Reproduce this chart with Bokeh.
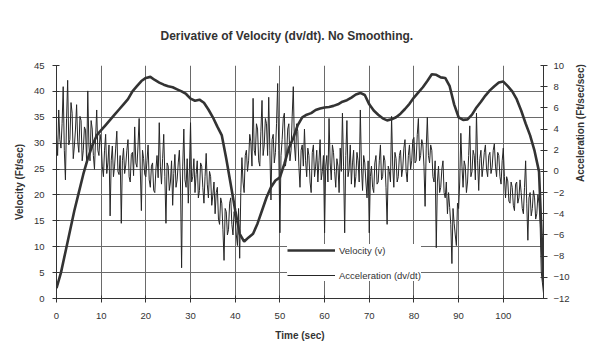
import math
from bokeh.plotting import figure
from bokeh.models import Range1d, LinearAxis, Legend, LegendItem, FixedTicker, ColumnDataSource
from bokeh.embed import file_html
from bokeh.resources import INLINE

# ---- data ----
vel_time = list(range(0, 110))
velocity = [
    2, 5, 9, 13, 17, 20.5, 24, 27, 29.5, 31.5,
    32.5, 33.5, 34.5, 35.5, 36.5, 37.5, 38.5, 40, 41, 42,
    42.6, 42.8, 42.2, 41.7, 41.3, 41, 40.8, 40.4, 40, 39.5,
    38.6, 38.2, 38.4, 37.8, 36.5, 35, 33.2, 31.5, 27, 22,
    17, 12.5, 11, 11.8, 12.5, 14.5, 17, 19.5, 21.5, 22.8,
    23.4, 26, 29, 31, 33.5, 35, 35.5, 35.8, 36.4, 36.7,
    36.9, 37, 37.2, 37.5, 38, 38.3, 38.8, 39.4, 39.7, 39.3,
    37.5, 36.3, 35.5, 34.8, 34.4, 34.6, 35, 35.7, 36.6, 37.6,
    38.8, 39.8, 40.8, 42, 43.3, 43.2, 42.7, 42.6, 41, 37.5,
    35, 34.5, 34.6, 35.5, 36.9, 38, 39.2, 40.2, 41, 41.7,
    41.9, 41, 40, 38.5, 36.3, 33.8, 31.5, 28.5, 24.5, 3,
]

acc_time = [i * 0.25 for i in range(437)]
acceleration = [
    3.5, 1.5, 5.8, 3.0, 2.2, 4.5, 8.0, 2.0, -0.8, 5.0, 8.6, 2.5, 3.0, 6.5, 5.5, 1.2, 2.4, 4.0, 6.3, 2.8,
    1.8, 5.2, 4.8, 1.0, 2.0, 4.2, 3.9, 0.8, 7.6, 2.5, 1.0, 4.8, 4.0, 1.5, 0.2, 3.2, 5.8, 2.0, 1.5, 3.5,
    2.7, 0.5, -0.5, 2.0, 3.5, -0.2, 0.8, 2.5, -4.2, 1.0, 2.4, -0.5, 0.5, 2.2, 3.8, 0.0, -0.3, 1.5, -4.9, 1.0,
    2.2, -0.2, 0.6, 2.0, 3.0, -0.5, -1.0, 1.6, 1.8, -0.4, 4.2, 0.8, 0.4, 2.5, 5.0, 0.2, -3.7, 2.0, 1.2, -0.3,
    -0.5, 1.0, 2.5, -0.8, -1.5, 0.5, 0.8, -1.8, -2.0, 0.2, 1.5, -0.6, 4.6, 0.5, -1.2, 1.2, 3.5, -0.5, -4.9, 0.8,
    0.5, -1.8, -1.0, 1.0, -3.2, -0.2, 1.6, -1.5, -0.8, 0.8, 2.0, -1.0, -9.1, 0.5, 4.0, -0.8, -1.5, 1.2, -3.0, 0.2,
    4.6, -1.0, -0.5, 1.2, -2.0, -0.3, 1.0, -2.5, -1.8, 0.8, 0.5, -1.5, -3.0, -0.5, 1.7, -1.2, -2.5, 0.0, -0.5, -3.2,
    -2.2, -1.0, -4.0, -2.0, -1.5, -4.5, -5.0, -2.5, -3.0, -5.5, -8.4, -3.5, -3.8, -6.0, -5.5, -3.0, -2.5, -5.0, -6.0, -3.8,
    -4.5, -6.0, -7.0, -3.5, -8.2, -2.0, 1.3, -1.0, -2.0, 1.5, 2.0, 0.0, 1.0, 3.5, 2.8, 0.5, 6.9, 2.0, 1.5, 4.5,
    4.0, 1.0, 0.5, 3.8, 6.7, 1.5, 2.5, 5.0, 4.5, 1.5, 7.0, 2.0, -2.7, 3.0, 3.5, 0.8, 1.8, 4.5, 8.3, 2.0,
    -5.8, 1.5, 3.0, 5.0, 5.5, 0.5, 1.5, 4.0, 4.5, 1.0, 2.0, 5.2, 8.0, 2.5, 1.0, 4.5, 3.8, 0.5, -1.5, 2.0,
    2.5, 0.5, 4.0, 1.0, -0.5, 2.2, 1.5, -1.0, -2.0, 1.8, 2.5, -0.5, 0.5, 2.0, -1.0, 1.0, 3.0, -0.8, 0.0, 1.5,
    -5.8, 0.5, 1.5, -1.0, 5.0, 0.8, -0.8, 2.5, 1.8, 0.0, -1.5, 1.2, 0.5, -2.0, 2.2, 0.0, 5.5, 0.5, -5.8, 1.5,
    4.8, -0.5, 0.2, 2.5, -1.2, 0.8, 2.0, -1.5, -0.5, 1.8, 1.0, -1.0, 5.8, 0.5, -1.8, 1.5, 0.8, -1.0, -2.5, 1.0,
    -5.8, -0.5, 0.5, -1.5, -2.0, 0.8, 1.5, -1.2, -1.0, 1.0, 2.5, -0.8, -0.5, 1.5, 1.0, -1.5, -5.0, 0.5, 0.0, -1.0,
    5.2, 0.5, -1.5, 1.8, 1.2, -1.0, -0.5, 1.5, 2.0, -0.5, 0.3, 2.2, 3.0, 0.0, -1.0, 1.5, 2.5, 0.2, 1.0, 3.0,
    3.2, 0.8, 1.0, 3.5, 5.0, 1.0, 1.5, 3.0, 2.5, 0.5, -3.3, 2.2, 5.1, 1.5, 0.8, 2.5, 2.0, -0.5, -1.0, 1.0,
    -7.2, -1.0, 0.5, -2.0, -1.5, 0.2, 1.0, -2.0, -2.5, -1.0, -4.0, -2.0, -3.4, -5.0, -8.7, -3.5, -4.9, -6.0, -7.0, -3.0,
    -3.5, -1.0, 3.6, 0.5, -1.5, 1.0, 0.5, -2.0, -1.0, 1.5, 4.3, -0.5, 0.0, 2.0, 1.5, -0.8, 5.5, 1.0, -1.8, 1.2,
    2.0, -0.5, 0.5, 1.8, 2.5, 0.2, -0.5, 1.5, 1.8, -0.2, 0.4, 2.0, 2.6, 0.5, -0.5, 1.8, 1.5, -0.5, -1.2, 1.0,
    2.2, -0.5, -2.5, -0.5, -0.9, -2.8, -3.0, -1.0, -1.5, -3.2, -3.7, -1.2, -1.0, -3.0, -2.5, -0.8, -2.0, -3.5, -4.0, -1.5,
    1.0, -3.0, -6.5, -2.5, -2.0, -4.2, -3.5, -1.8, -2.5, -4.5, -4.0, -2.2, -3.0, -5.0, -9.5, -10.5, -11.5,
]

x_ticks = [0, 10, 20, 30, 40, 50, 60, 70, 80, 90, 100]
vel_ticks = [0, 5, 10, 15, 20, 25, 30, 35, 40, 45]
acc_ticks = [-12, -10, -8, -6, -4, -2, 0, 2, 4, 6, 8, 10]

FONT = "Liberation Sans"
TXT = "#333333"

p = figure(width=600, height=352, output_backend="svg", toolbar_location=None,
           x_range=Range1d(0, 109), y_range=Range1d(0, 45),
           min_border_left=56, min_border_right=57, min_border_top=65, min_border_bottom=54,
           background_fill_color="white", border_fill_color="white")
p.outline_line_color = None
p.extra_y_ranges = {"acc": Range1d(-12, 10)}

p.title.text = "Derivative of Velocity (dv/dt).  No Smoothing."
p.title.align = "left"
p.title.offset = 104
p.title.standoff = 45
p.title.text_font = FONT
p.title.text_font_size = "12px"
p.title.text_font_style = "bold"
p.title.text_color = TXT

src_a = ColumnDataSource(dict(t=acc_time, a=acceleration))
src_v = ColumnDataSource(dict(t=vel_time, v=velocity))
ra = p.line("t", "a", source=src_a, y_range_name="acc", line_color="#262626", line_width=1)
rv = p.line("t", "v", source=src_v, line_color="#333333", line_width=2.6)

# axes
p.xaxis.ticker = FixedTicker(ticks=x_ticks)
p.yaxis.ticker = FixedTicker(ticks=vel_ticks)
p.xaxis.axis_label = "Time (sec)"
p.yaxis.axis_label = "Velocity (Ft/sec)"

right = LinearAxis(y_range_name="acc", ticker=FixedTicker(ticks=acc_ticks),
                   axis_label="Acceleration (Ft/sec/sec)")
p.add_layout(right, "right")

for ax in [p.xaxis[0], p.yaxis[0], right]:
    ax.axis_line_color = "#333333"
    ax.axis_line_width = 1
    ax.major_tick_line_color = "#333333"
    ax.minor_tick_line_color = None
    ax.major_tick_in = 3
    ax.major_tick_out = 4
    ax.major_label_text_font = FONT
    ax.major_label_text_font_size = "9.5px"
    ax.major_label_text_color = TXT
    ax.axis_label_text_font = FONT
    ax.axis_label_text_font_size = "10px"
    ax.axis_label_text_font_style = "bold"
    ax.axis_label_text_color = TXT

p.xaxis.major_label_standoff = 10
p.xaxis.axis_label_standoff = 8
p.yaxis.major_label_standoff = 8
p.yaxis.axis_label_standoff = 6
right.major_label_standoff = 6
right.axis_label_standoff = 8
right.axis_label_orientation = math.pi / 2

# grids
p.xgrid.grid_line_color = "#6a6a6a"
p.ygrid.grid_line_color = "#6a6a6a"
p.xgrid.grid_line_width = 1
p.ygrid.grid_line_width = 1

legend = Legend(items=[LegendItem(label="Velocity (v)", renderers=[rv]),
                       LegendItem(label="Acceleration (dv/dt)", renderers=[ra])],
                location=(231, 17), glyph_width=48, glyph_height=12, label_height=12,
                spacing=13, padding=10, label_standoff=4, margin=0,
                border_line_color=None, background_fill_color="white", background_fill_alpha=1.0,
                label_text_font=FONT, label_text_font_size="9.5px", label_text_color=TXT)
p.add_layout(legend)

open("out.html", "w").write(file_html(p, INLINE))
